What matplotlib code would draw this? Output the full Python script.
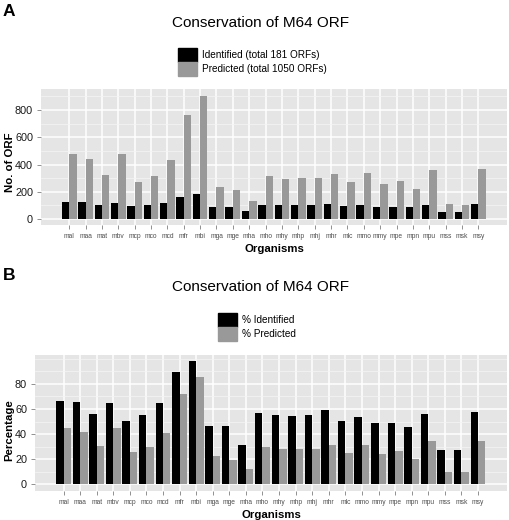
import numpy as np
import matplotlib
matplotlib.use("Agg")
from matplotlib import pyplot as plt
from matplotlib.patches import Patch
from matplotlib.ticker import FixedLocator

plt.rcParams['font.family'] = ['Liberation Sans', 'DejaVu Sans']

organisms = ["mal", "maa", "mat", "mbv", "mcp", "mco", "mcd", "mfr", "mbi", "mga",
             "mge", "mha", "mho", "mhy", "mhp", "mhj", "mhr", "mlc", "mmo", "mmy",
             "mpe", "mpn", "mpu", "mss", "msk", "msy"]

# panel A: number of ORFs
identified = [122, 122, 103, 120, 93, 103, 120, 164, 181, 86,
              86, 59, 105, 100, 100, 100, 110, 93, 100, 90,
              90, 86, 103, 51, 49, 110]
predicted = [479, 442, 325, 474, 271, 318, 433, 763, 905, 235,
             213, 132, 318, 296, 301, 301, 333, 269, 337, 259,
             281, 218, 362, 108, 100, 369]

# panel B: percentages
pct_identified = [66.7, 65.6, 56.1, 65.1, 50.2, 55.5, 65.1, 89.3, 98.1, 46.8,
                  46.8, 31.4, 56.9, 55.3, 54.5, 55.3, 59.0, 50.2, 53.4, 48.6,
                  49.2, 46.0, 56.3, 27.6, 27.1, 57.9]
pct_predicted = [45.2, 41.7, 30.8, 44.7, 25.5, 29.8, 40.9, 72.0, 85.3, 22.3,
                 19.7, 12.2, 30.0, 27.9, 28.2, 28.2, 31.1, 25.2, 31.6, 24.5,
                 26.3, 20.5, 34.3, 10.1, 9.6, 34.8]

W, H = 510, 520
BLACK = "#000000"
GREY = "#999999"
BG = "#E5E5E5"

fig = plt.figure(figsize=(W / 100, H / 100), dpi=100)


def px_axes(left, top, right, bottom):
    return fig.add_axes([left / W, 1 - bottom / H, (right - left) / W, (bottom - top) / H])


def style_panel(ax, major, minor, ylim):
    x = np.arange(len(organisms))
    ax.set_facecolor(BG)
    for s in ax.spines.values():
        s.set_visible(False)
    ax.set_xlim(-1.72, 26.75)
    ax.set_ylim(*ylim)
    ax.set_xticks(x)
    ax.set_xticklabels(organisms, fontsize=4.8, color="#4d4d4d")
    ax.yaxis.set_major_locator(FixedLocator(major))
    ax.yaxis.set_minor_locator(FixedLocator(minor))
    ax.set_yticklabels([str(v) for v in major], fontsize=7.8, color="#1a1a1a")
    ax.tick_params(axis="both", which="major", color="#7f7f7f", length=3.2, width=0.6, pad=2.5)
    ax.tick_params(axis="y", which="minor", length=0)
    ax.grid(which="major", color="white", linewidth=1.1)
    ax.grid(which="minor", axis="y", color="#f5f5f5", linewidth=0.5)
    ax.set_axisbelow(True)
    ax.set_xlabel("Organisms", fontsize=8.2, fontweight="bold", labelpad=3)


x = np.arange(len(organisms))
w = 0.45

# panel A
axA = px_axes(41, 89.3, 507, 225)
axA.bar(x - w / 2, identified, width=w, color=BLACK)
axA.bar(x + w / 2, predicted, width=w, color=GREY)
style_panel(axA, [0, 200, 400, 600, 800], [100, 300, 500, 700, 900], (-44, 952))
fig.text(10 / W, 1 - 162 / H, "No. of ORF", fontsize=8.2, fontweight="bold",
         rotation=90, ha="center", va="center")
fig.text(261 / W, 1 - 22.7 / H, "Conservation of M64 ORF", fontsize=11, ha="center", va="center")
fig.text(3 / W, 1 - 11 / H, "A", fontsize=12.5, fontweight="bold", ha="left", va="center")
fig.legend(handles=[Patch(color=BLACK), Patch(color=GREY)],
           labels=["Identified (total 181 ORFs)", "Predicted (total 1050 ORFs)"],
           loc="upper left", bbox_to_anchor=(177.7 / W, 1 - 47.7 / H), frameon=False,
           fontsize=7.2, handlelength=1.9, handleheight=1.8, labelspacing=0,
           handletextpad=0.5, borderpad=0, borderaxespad=0)

# panel B
axB = px_axes(35, 355, 507, 491)
axB.bar(x - w / 2, pct_identified, width=w, color=BLACK)
axB.bar(x + w / 2, pct_predicted, width=w, color=GREY)
style_panel(axB, [0, 20, 40, 60, 80], [10, 30, 50, 70, 90, 100], (-5.3, 103))
fig.text(9 / W, 1 - 430 / H, "Percentage", fontsize=8.2, fontweight="bold",
         rotation=90, ha="center", va="center")
fig.text(261 / W, 1 - 286.7 / H, "Conservation of M64 ORF", fontsize=11, ha="center", va="center")
fig.text(3 / W, 1 - 275.5 / H, "B", fontsize=12.5, fontweight="bold", ha="left", va="center")
fig.legend(handles=[Patch(color=BLACK), Patch(color=GREY)],
           labels=["% Identified", "% Predicted"],
           loc="upper left", bbox_to_anchor=(218 / W, 1 - 313 / H), frameon=False,
           fontsize=7.2, handlelength=1.9, handleheight=1.8, labelspacing=0,
           handletextpad=0.5, borderpad=0, borderaxespad=0)

fig.savefig("out.png", dpi=100)
